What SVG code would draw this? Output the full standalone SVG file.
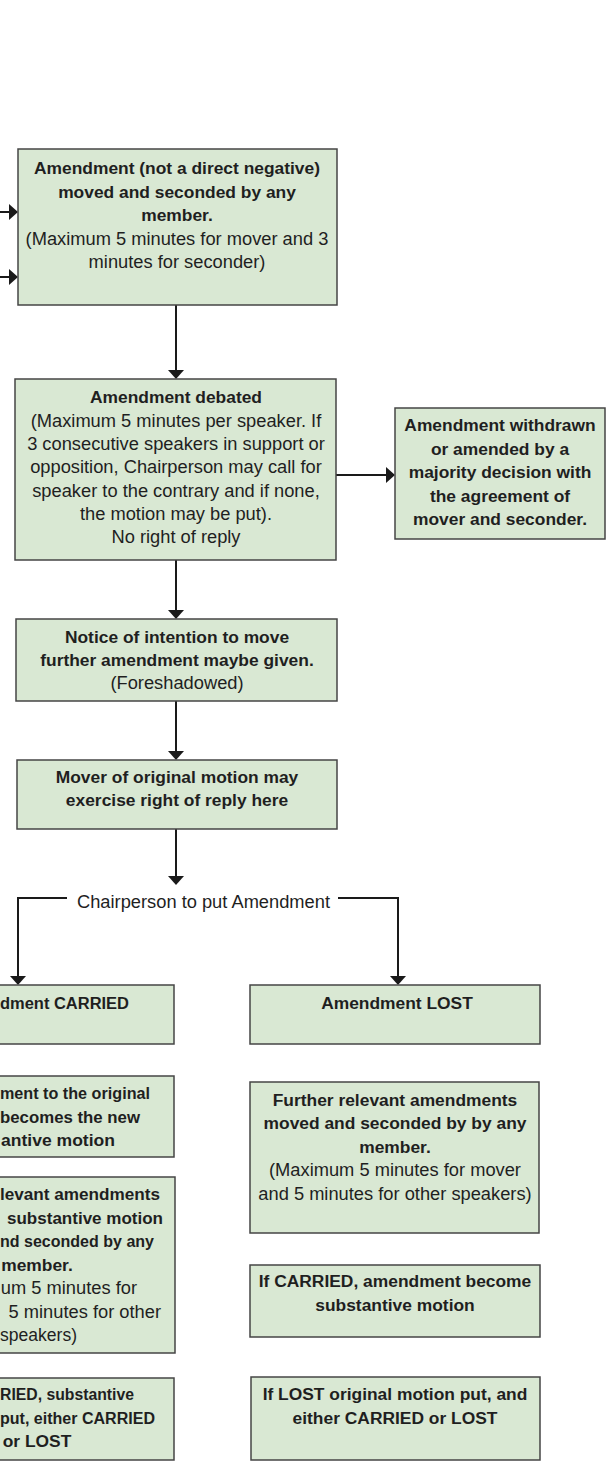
<svg xmlns="http://www.w3.org/2000/svg" width="613" height="1462" viewBox="0 0 613 1462">
<style>
.box{fill:#d9e8d3;stroke:#454545;stroke-width:1.5}
.b{font-family:"Liberation Sans",Arial,sans-serif;font-weight:bold;font-size:17.4px;fill:#1f1f1f}
.r{font-family:"Liberation Sans",Arial,sans-serif;font-size:18.3px;fill:#1f1f1f}
.c{text-anchor:middle}
.e{text-anchor:end}
.ln{fill:none;stroke:#1a1a1a;stroke-width:2}
</style>
<defs>
<marker id="ah" viewBox="0 0 9 16" refX="0" refY="8" markerWidth="9" markerHeight="16" markerUnits="userSpaceOnUse" orient="auto">
<path d="M0,0 L9,8 L0,16 z" fill="#1a1a1a"/>
</marker>
</defs>
<rect width="613" height="1462" fill="#ffffff"/>

<g id="connectors">
<line class="ln" x1="-5" y1="212" x2="9" y2="212" marker-end="url(#ah)"/>
<line class="ln" x1="-5" y1="277" x2="9" y2="277" marker-end="url(#ah)"/>
<line class="ln" x1="176" y1="305" x2="176" y2="370" marker-end="url(#ah)"/>
<line class="ln" x1="336" y1="475" x2="386" y2="475" marker-end="url(#ah)"/>
<line class="ln" x1="176" y1="560" x2="176" y2="610" marker-end="url(#ah)"/>
<line class="ln" x1="176" y1="701" x2="176" y2="751" marker-end="url(#ah)"/>
<line class="ln" x1="176" y1="829" x2="176" y2="876" marker-end="url(#ah)"/>
<polyline class="ln" points="67,898 18,898 18,976" marker-end="url(#ah)"/>
<polyline class="ln" points="338,898 398,898 398,976" marker-end="url(#ah)"/>
<text class="r c" x="203.5" y="908">Chairperson to put Amendment</text>
</g>

<g id="n-amendment-moved">
<rect class="box" x="18" y="149" width="319" height="156"/>
<text class="b c" x="177" y="174">Amendment (not a direct negative)</text>
<text class="b c" x="177" y="197.5">moved and seconded by any</text>
<text class="b c" x="177" y="221">member.</text>
<text class="r c" x="177" y="244.5">(Maximum 5 minutes for mover and 3</text>
<text class="r c" x="177" y="268">minutes for seconder)</text>
</g>

<g id="n-amendment-debated">
<rect class="box" x="15" y="379" width="321" height="181"/>
<text class="b c" x="176" y="403">Amendment debated</text>
<text class="r c" x="176" y="426.5">(Maximum 5 minutes per speaker. If</text>
<text class="r c" x="176" y="450">3 consecutive speakers in support or</text>
<text class="r c" x="176" y="473">opposition, Chairperson may call for</text>
<text class="r c" x="176" y="496.5">speaker to the contrary and if none,</text>
<text class="r c" x="176" y="520">the motion may be put).</text>
<text class="r c" x="176" y="543">No right of reply</text>
</g>

<g id="n-withdrawn">
<rect class="box" x="395" y="408" width="210" height="131"/>
<text class="b c" x="500" y="431">Amendment withdrawn</text>
<text class="b c" x="500" y="454.5">or amended by a</text>
<text class="b c" x="500" y="478">majority decision with</text>
<text class="b c" x="500" y="501.5">the agreement of</text>
<text class="b c" x="500" y="525">mover and seconder.</text>
</g>

<g id="n-notice">
<rect class="box" x="16" y="619" width="321" height="82"/>
<text class="b c" x="177" y="643">Notice of intention to move</text>
<text class="b c" x="177" y="666">further amendment maybe given.</text>
<text class="r c" x="177" y="689">(Foreshadowed)</text>
</g>

<g id="n-mover-reply">
<rect class="box" x="17" y="760" width="320" height="69"/>
<text class="b c" x="177" y="783">Mover of original motion may</text>
<text class="b c" x="177" y="806">exercise right of reply here</text>
</g>

<g id="n-carried">
<rect class="box" x="-120" y="985" width="294" height="59"/>
<text class="b" x="0" y="1009" textLength="129" lengthAdjust="spacingAndGlyphs">dment CARRIED</text>
</g>

<g id="n-lost">
<rect class="box" x="250" y="985" width="290" height="59"/>
<text class="b c" x="397" y="1009">Amendment LOST</text>
</g>

<g id="n-new-substantive">
<rect class="box" x="-120" y="1076" width="294" height="81"/>
<text class="b" x="0" y="1099" textLength="150" lengthAdjust="spacingAndGlyphs">ment to the original</text>
<text class="b" x="0" y="1122.5" textLength="140" lengthAdjust="spacingAndGlyphs">becomes the new</text>
<text class="b" x="1" y="1146" textLength="114" lengthAdjust="spacingAndGlyphs">antive motion</text>
</g>

<g id="n-further-left">
<rect class="box" x="-120" y="1177" width="295" height="176"/>
<text class="b" x="0" y="1200" textLength="160" lengthAdjust="spacingAndGlyphs">levant amendments</text>
<text class="b" x="7" y="1223.5" textLength="156" lengthAdjust="spacingAndGlyphs">substantive motion</text>
<text class="b" x="0" y="1247" textLength="154" lengthAdjust="spacingAndGlyphs">nd seconded by any</text>
<text class="b c" x="37" y="1270.5">member.</text>
<text class="r e" x="137" y="1294">um 5 minutes for</text>
<text class="r e" x="161" y="1317.5">5 minutes for other</text>
<text class="r" x="0" y="1341" textLength="77" lengthAdjust="spacingAndGlyphs">speakers)</text>
</g>

<g id="n-substantive-put">
<rect class="box" x="-120" y="1378" width="294" height="82"/>
<text class="b" x="0" y="1400" textLength="134" lengthAdjust="spacingAndGlyphs">RIED, substantive</text>
<text class="b" x="0" y="1423.5" textLength="155" lengthAdjust="spacingAndGlyphs">put, either CARRIED</text>
<text class="b c" x="37" y="1447">or LOST</text>
</g>

<g id="n-further-right">
<rect class="box" x="250" y="1082" width="289" height="151"/>
<text class="b c" x="395" y="1105.5">Further relevant amendments</text>
<text class="b c" x="395" y="1129">moved and seconded by by any</text>
<text class="b c" x="395" y="1152.5">member.</text>
<text class="r c" x="395" y="1176">(Maximum 5 minutes for mover</text>
<text class="r c" x="395" y="1199.5">and 5 minutes for other speakers)</text>
</g>

<g id="n-if-carried">
<rect class="box" x="250" y="1265" width="290" height="72"/>
<text class="b c" x="395" y="1287">If CARRIED, amendment become</text>
<text class="b c" x="395" y="1311">substantive motion</text>
</g>

<g id="n-if-lost">
<rect class="box" x="251" y="1377" width="289" height="83"/>
<text class="b c" x="395" y="1400">If LOST original motion put, and</text>
<text class="b c" x="395" y="1423.5">either CARRIED or LOST</text>
</g>
</svg>
